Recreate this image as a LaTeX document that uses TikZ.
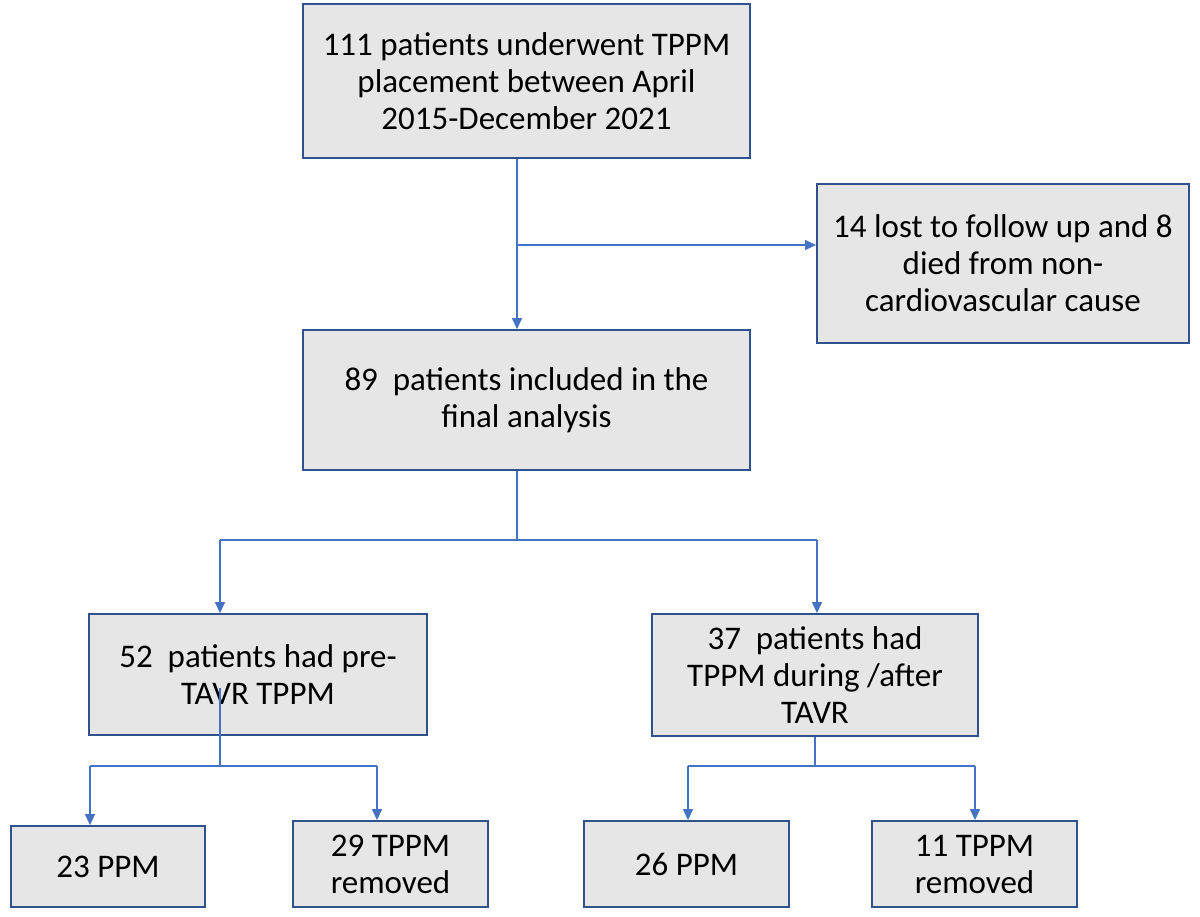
\documentclass[tikz,border=0pt]{standalone}
\usepackage{fontspec}
\setmainfont{Carlito}
\usetikzlibrary{arrows.meta}
\definecolor{boxfill}{HTML}{E7E6E6}
\definecolor{boxline}{HTML}{2F528F}
\definecolor{conn}{HTML}{4472C4}
\begin{document}
\begin{tikzpicture}[x=1pt,y=-1pt,
  flowbox/.style={draw=boxline, line width=1.8pt, fill=boxfill, rectangle, align=center,
    inner sep=0pt, font=\fontsize{33pt}{37pt}\selectfont, text=black},
  link/.style={draw=conn, line width=1.2pt},
  linkarrow/.style={link, -{Triangle[length=11pt,width=10pt]}}]
\useasboundingbox (0,0) rectangle (1200,917);
\fill[white] (0,0) rectangle (1200,917);

\node[flowbox, minimum width=447pt, minimum height=154pt] (A) at (526.5,81)
  {111 patients underwent TPPM\\placement between April\\2015-December 2021};
\node[flowbox, minimum width=447pt, minimum height=140pt] (B) at (526.5,400)
  {89~ patients included in the\\final analysis};
\node[flowbox, minimum width=372pt, minimum height=159pt] (C) at (1003,263.5)
  {14 lost to follow up and 8\\died from non-\\cardiovascular cause};
\node[flowbox, minimum width=338pt, minimum height=121pt] (D) at (258,674.5)
  {52~ patients had pre-\\TAVR TPPM};
\node[flowbox, minimum width=326pt, minimum height=122pt] (E) at (815,675)
  {37~ patients had\\TPPM during /after\\TAVR};
\node[flowbox, minimum width=194pt, minimum height=81pt] (F) at (108,866.5) {23 PPM};
\node[flowbox, minimum width=195pt, minimum height=86pt] (G) at (390.5,864) {29 TPPM\\removed};
\node[flowbox, minimum width=205pt, minimum height=86pt] (H) at (686.5,864) {26 PPM};
\node[flowbox, minimum width=205pt, minimum height=86pt] (I) at (974.5,864) {11 TPPM\\removed};

% junction coordinates
\coordinate (j1) at (517,245);
\coordinate (j2) at (517,540);
\coordinate (d0) at (220,688);
\coordinate (j3) at (220,766);
\coordinate (e0) at (815,736);
\coordinate (j4) at (815,766);

% A -> B and side branch to C
\draw[linkarrow] (A.south -| j1) -- (B.north -| j1);
\draw[linkarrow] (j1) -- (j1 -| C.west);

% B -> D, E
\draw[link] (B.south -| j2) -- (j2);
\draw[link] (220,540) -- (817,540);
\draw[linkarrow] (220,540) -- (D.north -| 220,0);
\draw[linkarrow] (817,540) -- (E.north -| 817,0);

% D -> F, G
\draw[link] (d0) -- (j3);
\draw[link] (90,766) -- (377,766);
\draw[linkarrow] (90,766) -- (F.north -| 90,0);
\draw[linkarrow] (377,766) -- (G.north -| 377,0);

% E -> H, I
\draw[link] (E.south -| e0) -- (j4);
\draw[link] (688,766) -- (975,766);
\draw[linkarrow] (688,766) -- (H.north -| 688,0);
\draw[linkarrow] (975,766) -- (I.north -| 975,0);
\end{tikzpicture}
\end{document}
